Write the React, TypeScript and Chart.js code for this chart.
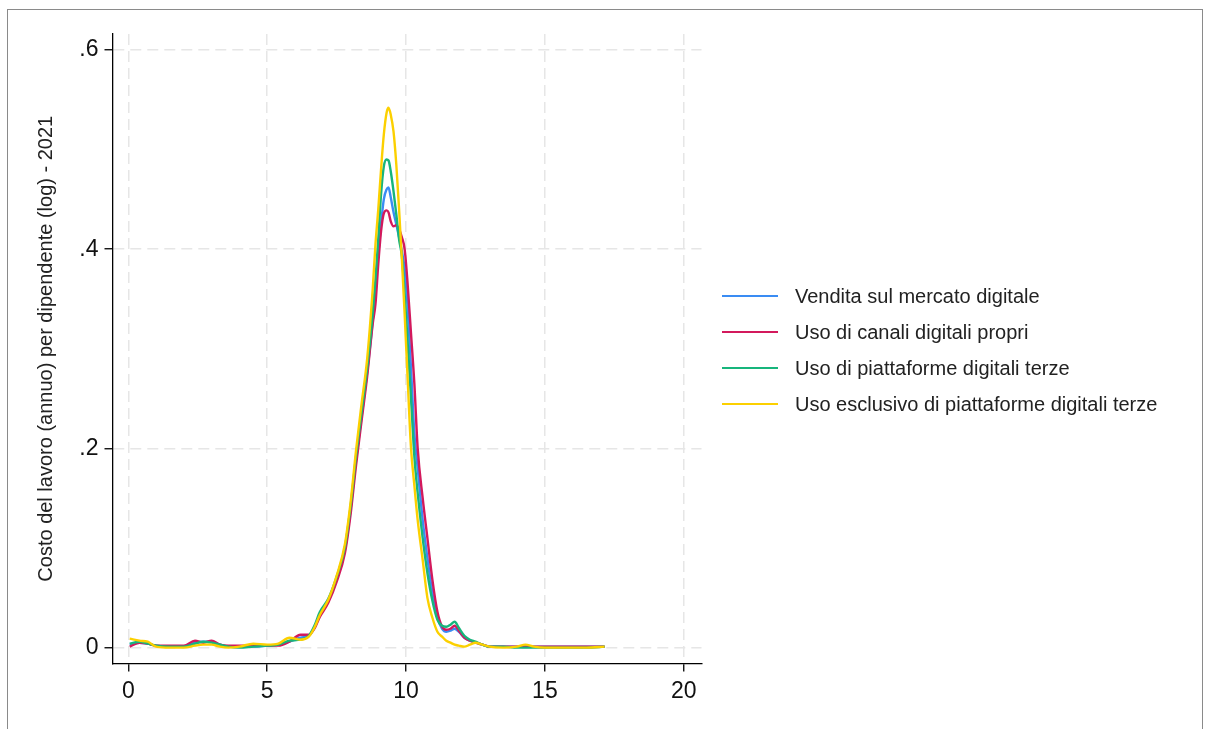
import React, { useEffect, useRef } from "react";
import { Chart, registerables } from "chart.js";

Chart.register(...registerables);

// Shared x grid (log labour cost per employee)
const X_VALUES = [
  0.05, 0.4, 0.7, 1.0, 1.5, 2.0, 2.4, 2.7, 3.0, 3.3, 3.6, 4.0, 4.5, 5.0, 5.4, 5.8,
  6.2, 6.5, 6.7, 6.9, 7.2, 7.5, 7.8, 8.0, 8.2, 8.4, 8.6, 8.8, 8.9, 9.0, 9.1, 9.2,
  9.3, 9.37, 9.45, 9.55, 9.65, 9.75, 9.85, 9.95, 10.05, 10.18, 10.3, 10.42, 10.6,
  10.77, 10.95, 11.13, 11.3, 11.45, 11.6, 11.75, 11.9, 12.1, 12.3, 12.5, 12.75,
  13.0, 13.5, 14.0, 14.3, 14.6, 15.0, 15.5, 16.0, 16.5, 17.15,
];

const VENDITA_MERCATO = [
  0.003, 0.005, 0.004, 0.002, 0.001, 0.001, 0.005, 0.006, 0.006, 0.003, 0.001, 0.001, 0.001, 0.002, 0.003, 0.006,
  0.010, 0.012, 0.020, 0.034, 0.047, 0.069, 0.098, 0.138, 0.188, 0.232, 0.276, 0.328, 0.360, 0.395, 0.425, 0.450,
  0.460, 0.462, 0.452, 0.437, 0.425, 0.412, 0.398, 0.380, 0.345, 0.280, 0.215, 0.180, 0.128,
  0.090, 0.055, 0.030, 0.019, 0.016, 0.017, 0.019, 0.016, 0.010, 0.007, 0.005, 0.003,
  0.001, 0.001, 0.001, 0.001, 0.001, 0.001, 0.001, 0.001, 0.001, 0.001,
];

const CANALI_PROPRI = [
  0.001, 0.005, 0.004, 0.002, 0.002, 0.002, 0.007, 0.005, 0.007, 0.003, 0.002, 0.002, 0.002, 0.002, 0.002, 0.006,
  0.013, 0.013, 0.019, 0.031, 0.045, 0.066, 0.095, 0.133, 0.183, 0.228, 0.272, 0.325, 0.345, 0.385, 0.418, 0.436,
  0.439, 0.437, 0.428, 0.423, 0.424, 0.420, 0.412, 0.400, 0.368, 0.315, 0.265, 0.200, 0.150,
  0.110, 0.068, 0.036, 0.021, 0.018, 0.019, 0.022, 0.017, 0.010, 0.007, 0.005, 0.003,
  0.001, 0.001, 0.001, 0.001, 0.001, 0.001, 0.001, 0.001, 0.001, 0.001,
];

const PIATTAFORME_TERZE = [
  0.004, 0.006, 0.004, 0.002, 0.001, 0.001, 0.004, 0.006, 0.005, 0.003, 0.001, 0.000, 0.001, 0.002, 0.003, 0.007,
  0.008, 0.012, 0.022, 0.036, 0.049, 0.071, 0.101, 0.141, 0.192, 0.236, 0.280, 0.335, 0.370, 0.410, 0.455, 0.483,
  0.490, 0.489, 0.478, 0.458, 0.435, 0.410, 0.393, 0.355, 0.310, 0.250, 0.192, 0.155, 0.110,
  0.075, 0.047, 0.028, 0.022, 0.021, 0.023, 0.026, 0.020, 0.012, 0.008, 0.006, 0.003,
  0.001, 0.001, 0.000, 0.000, 0.000, 0.000, 0.000, 0.000, 0.000, 0.001,
];

const ESCLUSIVO_PIATTAFORME = [
  0.009, 0.007, 0.006, 0.001, 0.000, 0.000, 0.002, 0.003, 0.003, 0.001, 0.000, 0.001, 0.004, 0.003, 0.004, 0.010,
  0.008, 0.011, 0.020, 0.033, 0.048, 0.072, 0.104, 0.145, 0.198, 0.245, 0.290, 0.360, 0.405, 0.440, 0.480, 0.515,
  0.537, 0.542, 0.535, 0.518, 0.485, 0.440, 0.390, 0.335, 0.275, 0.200, 0.163, 0.128, 0.088,
  0.050, 0.030, 0.016, 0.011, 0.007, 0.005, 0.003, 0.002, 0.001, 0.003, 0.005, 0.003,
  0.001, 0.000, 0.001, 0.003, 0.001, 0.000, 0.000, 0.000, 0.000, 0.001,
];

const SERIES_NAMES = [
  "Vendita sul mercato digitale",
  "Uso di canali digitali propri",
  "Uso di piattaforme digitali terze",
  "Uso esclusivo di piattaforme digitali terze",
];
const SERIES_COLORS = ["#3a8cf3", "#d3195c", "#17b57c", "#fcd000"];
const SERIES_ORDER = [3, 2, 1, 0];

const X_TICKS = [0, 5, 10, 15, 20];
const X_TICK_LABELS = ["0", "5", "10", "15", "20"];
const Y_TICKS = [0, 0.2, 0.4, 0.6];
const Y_TICK_LABELS = ["0", ".2", ".4", ".6"];
const Y_TITLE = "Costo del lavoro (annuo) per dipendente (log) - 2021";

const FONT = "'Liberation Sans', Arial, Helvetica, sans-serif";
const W = 1206;
const H = 729;

export default function App() {
  const ref = useRef<HTMLCanvasElement>(null);

  useEffect(() => {
    const values = [VENDITA_MERCATO, CANALI_PROPRI, PIATTAFORME_TERZE, ESCLUSIVO_PIATTAFORME];
    const datasets = values.map((vals, i) => ({
      label: SERIES_NAMES[i],
      data: vals.map((y, j) => ({ x: X_VALUES[j], y })),
      borderColor: SERIES_COLORS[i],
      backgroundColor: SERIES_COLORS[i],
      borderWidth: 2.4,
      pointRadius: 0,
      fill: false,
      cubicInterpolationMode: "monotone" as const,
      order: SERIES_ORDER[i],
    }));

    const chart = new Chart(ref.current!, {
      type: "line",
      data: { datasets },
      options: {
        animation: false,
        responsive: false,
        devicePixelRatio: 1,
        layout: { padding: { left: 0, top: 34, right: W - 701.5, bottom: 0 } },
        plugins: { legend: { display: false }, tooltip: { enabled: false } },
        scales: {
          x: {
            type: "linear",
            min: -0.57,
            max: 20.64,
            afterBuildTicks: (s: any) => {
              s.ticks = X_TICKS.map((v) => ({ value: v }));
            },
            afterFit: (s: any) => {
              s.height = H - 663.5;
            },
            ticks: {
              font: { family: FONT, size: 23 },
              color: "#111",
              padding: 6,
              autoSkip: false,
              maxRotation: 0,
              callback: (_v: any, i: number) => X_TICK_LABELS[i],
            },
            grid: { color: "#e6e6e6", lineWidth: 1.5, tickLength: 8, tickColor: "#000", tickWidth: 1.3 },
            border: { display: true, color: "#000", width: 1.3, dash: [11, 6] },
          },
          y: {
            type: "linear",
            min: -0.0159,
            max: 0.616,
            afterBuildTicks: (s: any) => {
              s.ticks = Y_TICKS.map((v) => ({ value: v }));
            },
            afterFit: (s: any) => {
              s.width = 112.5;
            },
            ticks: {
              font: { family: FONT, size: 23 },
              color: "#111",
              padding: 6,
              autoSkip: false,
              callback: (_v: any, i: number) => Y_TICK_LABELS[i],
            },
            title: {
              display: true,
              text: Y_TITLE,
              font: { family: FONT, size: 20 },
              color: "#222",
              padding: { top: 34, bottom: 0 },
            },
            grid: { color: "#e6e6e6", lineWidth: 1.5, tickLength: 8, tickColor: "#000", tickWidth: 1.3 },
            border: { display: true, color: "#000", width: 1.3, dash: [11, 6] },
          },
        },
      },
    } as any);

    return () => chart.destroy();
  }, []);

  return (
    <div
      style={{
        position: "fixed",
        left: 0,
        top: 0,
        width: W,
        height: H,
        background: "#fff",
        overflow: "hidden",
        fontFamily: FONT,
      }}
    >
      <canvas ref={ref} width={W} height={H} style={{ position: "absolute", left: 0, top: 0, width: W, height: H }} />
      <div
        style={{
          position: "absolute",
          left: 7,
          top: 9,
          width: 1196,
          height: 800,
          border: "1px solid #8a8a8a",
          boxSizing: "border-box",
          pointerEvents: "none",
        }}
      />
      {SERIES_NAMES.map((name, i) => {
        const rowY = 296 + 36 * i;
        return (
          <React.Fragment key={name}>
            <div
              style={{
                position: "absolute",
                left: 722,
                top: rowY - 1,
                width: 56,
                height: 2,
                background: SERIES_COLORS[i],
              }}
            />
            <div
              style={{
                position: "absolute",
                left: 795,
                top: rowY - 12,
                height: 24,
                lineHeight: "24px",
                fontSize: 20,
                color: "#222",
                whiteSpace: "nowrap",
              }}
            >
              {name}
            </div>
          </React.Fragment>
        );
      })}
    </div>
  );
}
